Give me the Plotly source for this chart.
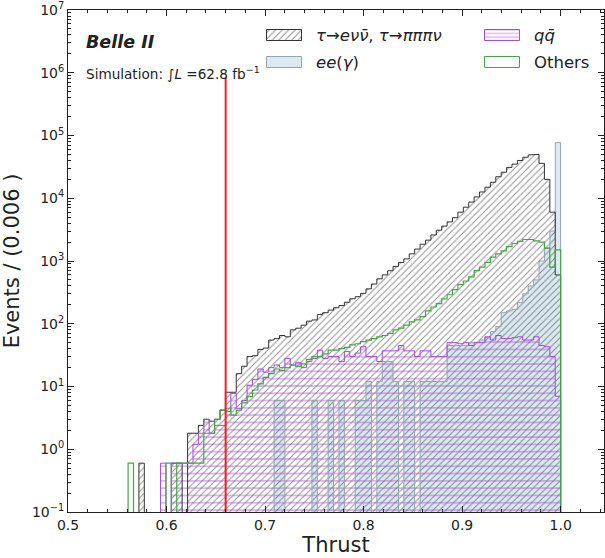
import numpy as np
import plotly.graph_objects as go

# ---------------------------------------------------------------- binning
THRUST_LO, THRUST_HI, N_BINS = 0.561, 1.0, 80

# ---------------------------------------------------------------- per-bin yields (80 bins)
tau_ll = [
    0, 0, 0.6, 0, 0, 0, 0, 0, 0.6, 0.6,
    0, 1.8, 1.8, 2.4, 3.0, 2.8, 3.0, 4.2, 8.1, 8.1,
    16, 21, 30, 31, 39, 41, 55, 58, 65, 62,
    80, 85, 95, 110, 115, 140, 150, 165, 180, 195,
    220, 250, 270, 305, 360, 430, 520, 600, 700, 820,
    950, 1080, 1300, 1550, 1850, 2150, 2600, 3100, 3600, 4200,
    4900, 6000, 7200, 8700, 10500, 12600, 15000, 18000, 22000, 26000,
    31000, 35000, 40000, 45000, 49000, 50000, 36000, 20000, 6000, 600,
]
ee_gamma = [
    0, 0, 0, 0, 0, 0, 0, 0, 0, 0,
    0, 0, 0, 0, 0, 0, 0, 0, 0, 0,
    0, 0, 0, 0, 0, 0, 0, 6, 6, 0,
    0, 0, 0, 0, 6, 0, 0, 6, 0, 6,
    0, 0, 6, 6, 12, 0, 12, 25, 25, 12,
    0, 12, 12, 0, 12, 12, 12, 12, 12, 45,
    45, 45, 45, 50, 50, 55, 60, 75, 90, 150,
    160, 170, 220, 300, 400, 500, 1000, 1600, 3000, 77000,
]
qqbar = [
    0, 0, 0, 0, 0, 0, 0.6, 0, 0.6, 0.6,
    0.6, 0.6, 1.2, 1.8, 3.0, 1.8, 2.4, 2.4, 4.0, 7.8,
    4.5, 6.0, 10.5, 13, 19, 17, 20, 22, 20, 28,
    22, 24, 20, 25, 28, 38, 28, 30, 30, 25,
    36, 30, 34, 43, 30, 30, 25, 37, 37, 37,
    45, 37, 37, 30, 37, 37, 30, 30, 30, 50,
    50, 48, 50, 45, 50, 50, 62, 55, 65, 58,
    58, 60, 62, 55, 55, 62, 45, 43, 30, 7,
]
others = [
    0.6, 0, 0, 0, 0, 0, 0, 0.6, 0, 0.6,
    0.6, 0.6, 0.6, 0.6, 1.8, 1.8, 3.0, 4.2, 4.5, 3.5,
    4.2, 5.5, 6.9, 8.8, 11, 14, 16, 19, 18, 20,
    22, 21, 23, 27, 30, 30, 33, 38, 38, 40,
    42, 46, 48, 52, 55, 58, 62, 65, 70, 80,
    85, 95, 107, 115, 130, 160, 185, 210, 250, 290,
    350, 420, 480, 560, 700, 800, 950, 1150, 1300, 1450,
    1700, 1900, 2050, 2200, 2200, 2100, 2000, 1600, 800, 1500,
]

CUT_VALUE = 0.66
CUT_LINE_TOP = 8.5e5

Y_EXPONENTS = list(range(-1, 8))
X_TICKS = [0.5, 0.6, 0.7, 0.8, 0.9, 1.0]

LEGEND_LABELS = [
    "<i>τ</i>→<i>eνν̄</i>, <i>τ</i>→<i>πππν</i>",
    "<i>ee</i>(<i>γ</i>)",
    "<i>qq̄</i>",
    "Others",
]

# ---------------------------------------------------------------- style
FONT = "DejaVu Sans"
TEXT = "#222222"
TAU_EDGE = "#333333"
TAU_HATCH = "#2e2e2e"
EE_FILL = "#dbeaf2"
EE_EDGE = "#93a4ae"
QQ_COLOR = "#ab47e6"
OTHERS_COLOR = "#45a545"
CUT_COLOR = "#ff1a1a"
FLOOR = 1e-3  # below the axis, so empty bins drop out of view

W, H = 605, 558
MARGIN = dict(l=68, r=1, t=10, b=46)

edges = np.linspace(THRUST_LO, THRUST_HI, N_BINS + 1)
centers = 0.5 * (edges[1:] + edges[:-1])
bin_w = edges[1] - edges[0]

for arr in (tau_ll, ee_gamma, qqbar, others):
    assert len(arr) == N_BINS


def bar_heights(vals):
    return [v if v > 0 else None for v in vals]


def step_outline(vals):
    v = np.where(np.asarray(vals, float) > 0, vals, FLOOR)
    xs = np.concatenate([[edges[0]], np.repeat(edges, 2)[1:-1], [edges[-1]]])
    ys = np.concatenate([[FLOOR], np.repeat(v, 2), [FLOOR]])
    return xs, ys


TAU_PATTERN = dict(shape="/", fgcolor=TAU_HATCH, bgcolor="rgba(0,0,0,0)",
                   size=4.6, solidity=0.24, fillmode="overlay")
QQ_PATTERN = dict(shape="-", fgcolor=QQ_COLOR, bgcolor="rgba(0,0,0,0)",
                  size=7.3, solidity=0.2, fillmode="overlay")

fig = go.Figure()

# ee(gamma): filled steps
fig.add_trace(go.Bar(
    x=centers, y=bar_heights(ee_gamma), width=bin_w,
    marker=dict(color=EE_FILL, line=dict(width=0)), showlegend=False,
))
xs, ys = step_outline(ee_gamma)
fig.add_trace(go.Scatter(x=xs, y=ys, mode="lines",
                         line=dict(color=EE_EDGE, width=1), showlegend=False))

# tau pair: diagonal hatch
fig.add_trace(go.Bar(
    x=centers, y=bar_heights(tau_ll), width=bin_w,
    marker=dict(color="rgba(0,0,0,0)", line=dict(width=0), pattern=TAU_PATTERN),
    showlegend=False,
))

# continuum: horizontal hatch
fig.add_trace(go.Bar(
    x=centers, y=bar_heights(qqbar), width=bin_w,
    marker=dict(color="rgba(0,0,0,0)", line=dict(width=0), pattern=QQ_PATTERN),
    showlegend=False,
))

for vals, col, lw in ((tau_ll, TAU_EDGE, 1.0), (qqbar, QQ_COLOR, 1.0), (others, OTHERS_COLOR, 1.2)):
    xs, ys = step_outline(vals)
    fig.add_trace(go.Scatter(x=xs, y=ys, mode="lines",
                             line=dict(color=col, width=lw), showlegend=False))

# thrust cut
fig.add_trace(go.Scatter(x=[CUT_VALUE, CUT_VALUE], y=[0.1, CUT_LINE_TOP], mode="lines",
                         line=dict(color=CUT_COLOR, width=2), showlegend=False))

# ---------------------------------------------------------------- hand-drawn legend (pixel frame)
LEG = dict(cols=[267, 485], rows=[35.3, 62.5], patch_w=35, patch_h=11, text_dx=47)
legend_styles = [
    dict(color="rgba(0,0,0,0)", line=dict(color=TAU_EDGE, width=1), pattern=TAU_PATTERN),
    dict(color=EE_FILL, line=dict(color=EE_EDGE, width=1)),
    dict(color="rgba(0,0,0,0)", line=dict(color=QQ_COLOR, width=1),
         pattern=dict(QQ_PATTERN, size=3.6, solidity=0.3)),
    dict(color="white", line=dict(color=OTHERS_COLOR, width=1)),
]
slots = [(0, 0), (0, 1), (1, 0), (1, 1)]
annotations = []
for (c, r), style, label in zip(slots, legend_styles, LEGEND_LABELS):
    x0 = LEG["cols"][c]
    yc = LEG["rows"][r]
    fig.add_trace(go.Bar(
        x=[x0 + LEG["patch_w"] / 2], y=[LEG["patch_h"]], base=[yc - LEG["patch_h"] / 2],
        width=[LEG["patch_w"]], marker=style, xaxis="x2", yaxis="y2",
        showlegend=False, hoverinfo="skip",
    ))
    annotations.append(dict(
        x=x0 + LEG["text_dx"], y=yc, xref="x2", yref="y2", text=label,
        showarrow=False, xanchor="left", yanchor="middle",
        font=dict(family=FONT, size=16.5, color=TEXT),
    ))

annotations += [
    dict(x=0.030, y=0.936, xref="paper", yref="paper", text="<b><i>Belle II</i></b>",
         showarrow=False, xanchor="left", yanchor="middle",
         font=dict(family=FONT, size=17.5, color=TEXT)),
    dict(x=0.030, y=0.874, xref="paper", yref="paper",
         text="Simulation: ∫<i>L</i> =62.8 fb<sup>−1</sup>",
         showarrow=False, xanchor="left", yanchor="middle",
         font=dict(family=FONT, size=13.6, color=TEXT)),
]

axis_common = dict(
    showline=True, linecolor="#222222", linewidth=1, mirror="ticks",
    ticks="inside", ticklen=6, tickcolor="#222222", showgrid=False, zeroline=False,
    tickfont=dict(family=FONT, size=14, color=TEXT),
)

y_tickvals = [10.0 ** e for e in Y_EXPONENTS]
y_ticktext = ["10<sup>%s</sup>" % str(e).replace("-", "−") for e in Y_EXPONENTS]

fig.update_layout(
    width=W, height=H, margin=MARGIN,
    paper_bgcolor="white", plot_bgcolor="white",
    barmode="overlay", bargap=0, showlegend=False,
    annotations=annotations,
    xaxis=dict(
        range=[0.5, 1.044], tickvals=X_TICKS, ticktext=["%.1f" % t for t in X_TICKS],
        minor=dict(ticks="inside", ticklen=3, tick0=0.5, dtick=0.02, tickcolor="#222222"),
        title=dict(text="Thrust", font=dict(family=FONT, size=21, color=TEXT), standoff=4),
        **axis_common,
    ),
    yaxis=dict(
        type="log", range=[-1, 7], tickvals=y_tickvals, ticktext=y_ticktext,
        minor=dict(ticks="inside", ticklen=3, dtick="D1", tickcolor="#222222"),
        title=dict(text="Events / (0.006 )", font=dict(family=FONT, size=21, color=TEXT), standoff=6),
        **axis_common,
    ),
    xaxis2=dict(overlaying="x", anchor="y2", range=[MARGIN["l"], W - MARGIN["r"]],
                visible=False, fixedrange=True),
    yaxis2=dict(overlaying="y", anchor="x2", range=[H - MARGIN["b"], MARGIN["t"]],
                visible=False, fixedrange=True),
)

fig.write_html("out.html")
